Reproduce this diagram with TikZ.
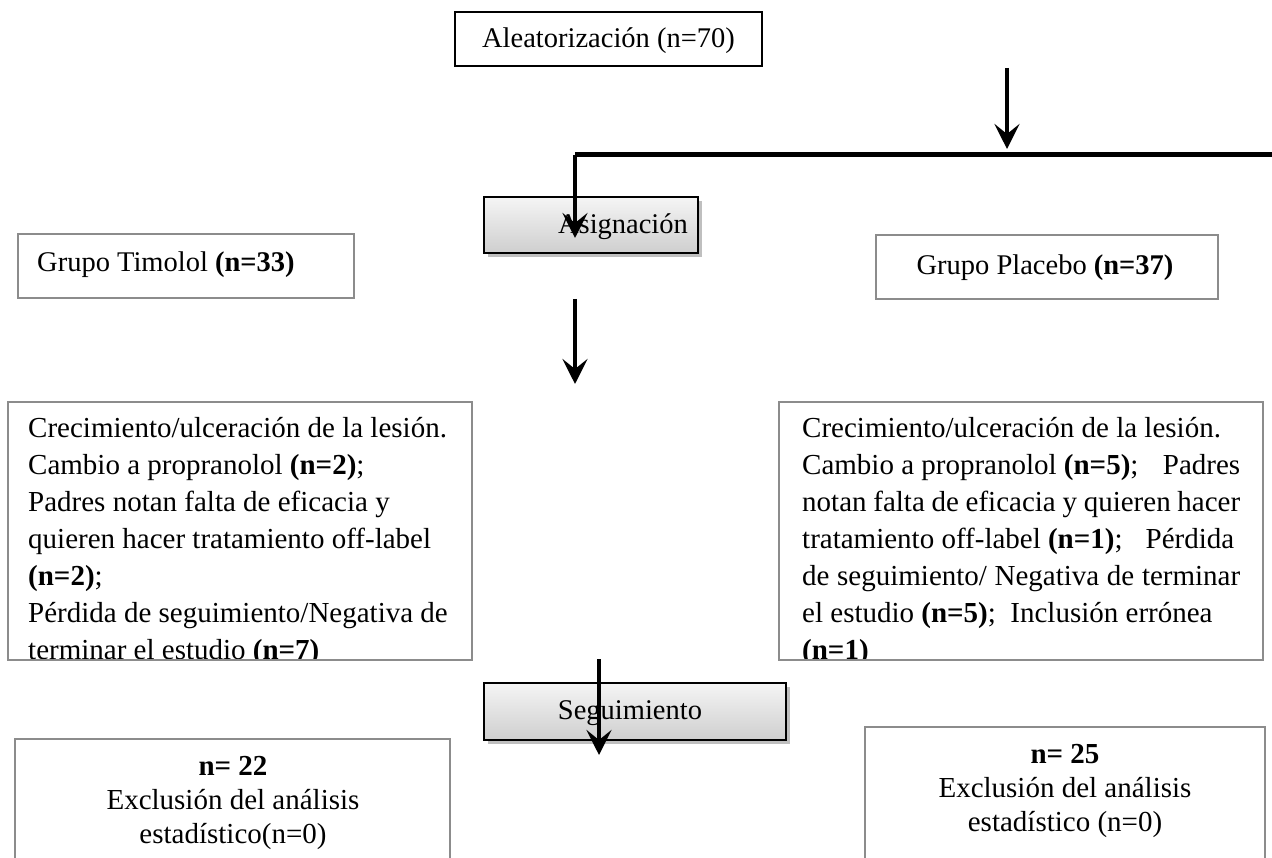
\documentclass[tikz,border=0pt]{standalone}
\usepackage{fontspec}
\setmainfont{Liberation Serif}
\usetikzlibrary{arrows.meta,shadows}
\definecolor{boxgray}{RGB}{140,140,140}
\tikzset{
  graybox/.style={draw=boxgray, line width=1.6pt, inner sep=0pt},
  blackbox/.style={draw=black, line width=1.6pt, inner sep=0pt},
  stagebox/.style={draw=black, line width=2pt, inner sep=0pt,
    top color=gray!8, bottom color=gray!38,
    drop shadow={shadow xshift=4pt, shadow yshift=-4pt, fill=black, opacity=0.25}},
  arr/.style={line width=4pt, -{Stealth[length=25pt,width=25pt,inset=10pt]}},
  thick line/.style={line width=5pt},
  bigtext/.style={inner sep=0pt, font=\fontsize{29}{37}\selectfont},
  bottext/.style={inner sep=0pt, align=center, font=\fontsize{29}{34}\selectfont},
}
\begin{document}
\begin{tikzpicture}[x=1pt,y=-1pt, font=\fontsize{28.5}{37}\selectfont]
\useasboundingbox[fill=white] (0,0) rectangle (1272,858);

% top box
\node[blackbox, minimum width=307pt, minimum height=54pt] (alea) at (608.5,39) {};
\node[inner sep=0pt] (aleatxt) at (608.5,41) {Aleatorización (n=70)};

% arrow to split line
\coordinate (a1s) at (1007,68);
\coordinate (a1e) at (1007,149);
\draw[arr] (a1s) -- (a1e);

% Asignacion box
\node[stagebox, minimum width=214pt, minimum height=56pt] (asig) at (591,225) {};
\node[inner sep=0pt] (asigtxt) at (623,227) {Asignación};

% split line with arrow into Asignacion
\coordinate (lineR) at (1275,155);
\coordinate (lineL) at (575,155);
\coordinate (asigtip) at (575,238);
\draw[thick line] (lineR) -- (lineL);
\draw[arr] (lineL) -- (asigtip);

% group boxes
\node[graybox, minimum width=336pt, minimum height=64pt] (timolol) at (186,266) {};
\node[inner sep=0pt, anchor=west] (timtxt) at (37,265) {Grupo Timolol \textbf{(n=33)}};
\node[graybox, minimum width=342pt, minimum height=64pt] (placebo) at (1047,267) {};
\node[inner sep=0pt] (platxt) at (1045,268) {Grupo Placebo \textbf{(n=37)}};

% arrow 2
\coordinate (a2s) at (575,299);
\coordinate (a2e) at (575,384);
\draw[arr] (a2s) -- (a2e);

% big left box
\begin{scope}
  \clip (8,402) rectangle (472,660);
  \node[bigtext, anchor=north west, align=left] (lefttxt) at (28,411) {%
    \strut Crecimiento/ulceración de la lesión.\\
    Cambio a propranolol \textbf{(n=2)};\\
    Padres notan falta de eficacia y\\
    quieren hacer tratamiento off-label\\
    \textbf{(n=2)};\\
    Pérdida de seguimiento/Negativa de\\
    terminar el estudio \textbf{(n=7)}};
\end{scope}
\node[graybox, minimum width=464pt, minimum height=258pt] (leftbox) at (240,531) {};

% big right box
\begin{scope}
  \clip (779,402) rectangle (1263,660);
  \node[bigtext, anchor=north west, align=left] (righttxt) at (802,411) {%
    \strut Crecimiento/ulceración de la lesión.\\
    \hbox to 438pt{Cambio a propranolol \textbf{(n=5)};\hfill Padres}\\
    \makebox[438pt][s]{notan falta de eficacia y quieren hacer}\\
    \hbox to 432pt{tratamiento off-label \textbf{(n=1)};\hfill Pérdida}\\
    \makebox[438pt][s]{de seguimiento/ Negativa de terminar}\\
    el estudio \textbf{(n=5)};\ \ Inclusión errónea\\
    \textbf{(n=1)}};
\end{scope}
\node[graybox, minimum width=484pt, minimum height=258pt] (rightbox) at (1021,531) {};

% Seguimiento box
\node[stagebox, minimum width=302pt, minimum height=57pt] (seg) at (635,711.5) {};
\node[inner sep=0pt] (segtxt) at (630,713) {Seguimiento};

% arrow 3
\coordinate (a3s) at (599,659);
\coordinate (a3e) at (599,755);
\draw[arr] (a3s) -- (a3e);

% bottom boxes
\node[graybox, minimum width=435pt, minimum height=160pt] (botleft) at (232.5,819) {};
\node[bottext] (bltxt) at (233,803) {\textbf{n= 22}\\Exclusión del análisis\\estadístico(n=0)};
\node[graybox, minimum width=400pt, minimum height=160pt] (botright) at (1065,807) {};
\node[bottext] (brtxt) at (1065,791) {\textbf{n= 25}\\Exclusión del análisis\\estadístico (n=0)};
\end{tikzpicture}
\end{document}
